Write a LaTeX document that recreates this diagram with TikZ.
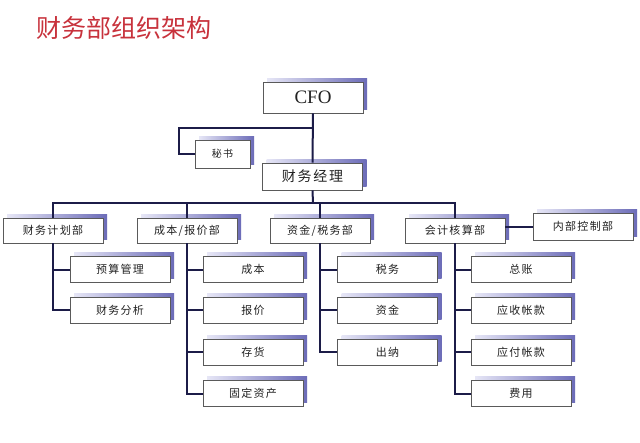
\documentclass[tikz,border=0pt]{standalone}
\usepackage{fontspec}
\newfontfamily\cjk{Noto Sans CJK SC}
\newfontfamily\cjksp[LetterSpace=12]{Noto Sans CJK SC}
\newfontfamily\cfofont{Liberation Serif}
\usetikzlibrary{shadows}
\definecolor{titlered}{HTML}{C8323C}
\definecolor{linecol}{HTML}{1C1C48}
\definecolor{boxline}{HTML}{5A5A5A}
\definecolor{shadL}{HTML}{E6E6F6}
\definecolor{shadR}{HTML}{6C6CB8}
\definecolor{txt}{HTML}{222222}
\tikzset{
  orgbox/.style={draw=boxline, line width=0.8pt, fill=white, inner sep=0pt,
    minimum width=100pt, minimum height=26pt, text=txt,
    font=\cjksp\fontsize{11}{13}\selectfont,
    general shadow={shadow xshift=4pt, shadow yshift=4pt, draw=none,
      left color=shadL, right color=shadR}},
  conn/.style={draw=linecol, line width=2pt},
}
\begin{document}
\begin{tikzpicture}[x=1pt,y=-1pt]
\useasboundingbox[fill=white] (0,0) rectangle (640,442);
\node[anchor=west, text=titlered, font=\cjk\fontsize{25}{29}\selectfont, inner sep=0pt] (title) at (36,28) {财务部组织架构};

% top
\node[orgbox, minimum height=31pt, font=\cfofont\fontsize{19}{22}\selectfont] (cfo) at (313,97.5) {CFO};
\node[orgbox, minimum width=55pt, minimum height=28pt, font=\cjksp\fontsize{10}{12}\selectfont] (mishu) at (222.5,154) {秘书};
\node[orgbox, minimum height=27pt, font=\cjksp\fontsize{14}{16}\selectfont] (jingli) at (312.5,176.5) {财务经理};

% departments
\node[orgbox, minimum height=25pt] (d1) at (53,230.5) {财务计划部};
\node[orgbox, minimum height=25pt] (d2) at (187,230.5) {成本/报价部};
\node[orgbox, minimum height=25pt] (d3) at (320,230.5) {资金/税务部};
\node[orgbox, minimum height=25pt] (d4) at (455,230.5) {会计核算部};
\node[orgbox, minimum height=27pt] (d5) at (583,226.5) {内部控制部};

% sub units
\node[orgbox] (a1) at (120,269.5) {预算管理};
\node[orgbox] (a2) at (120,310) {财务分析};
\node[orgbox] (b1) at (253,269.5) {成本};
\node[orgbox] (b2) at (253,310) {报价};
\node[orgbox] (b3) at (253,352) {存货};
\node[orgbox] (b4) at (253,393.5) {固定资产};
\node[orgbox] (c1) at (387.5,269.5) {税务};
\node[orgbox] (c2) at (387.5,310) {资金};
\node[orgbox] (c3) at (387.5,352) {出纳};
\node[orgbox] (e1) at (521,269.5) {总账};
\node[orgbox] (e2) at (521,310) {应收帐款};
\node[orgbox] (e3) at (521,352) {应付帐款};
\node[orgbox] (e4) at (521,393.5) {费用};

% connectors
\coordinate (j1) at (313,128);
\coordinate (s1) at (179,128);
\coordinate (bus) at (313,203);
\draw[conn] (cfo.south) -- (jingli.north);
\draw[conn] (j1) -- (s1) |- (mishu.west);
\draw[conn] (jingli.south) -- (bus);
\draw[conn] (d1.north) -- (d1.north |- bus) -- (d4.north |- bus) -- (d4.north);
\draw[conn] (d2.north) -- (d2.north |- bus);
\draw[conn] (d3.north) -- (d3.north |- bus);
\draw[conn] (d4.east |- d5.west) -- (d5.west);
\foreach \s in {a1,a2} \draw[conn] (d1.south) |- (\s.west);
\foreach \s in {b1,b2,b3,b4} \draw[conn] (d2.south) |- (\s.west);
\foreach \s in {c1,c2,c3} \draw[conn] (d3.south) |- (\s.west);
\foreach \s in {e1,e2,e3,e4} \draw[conn] (d4.south) |- (\s.west);
\end{tikzpicture}
\end{document}
